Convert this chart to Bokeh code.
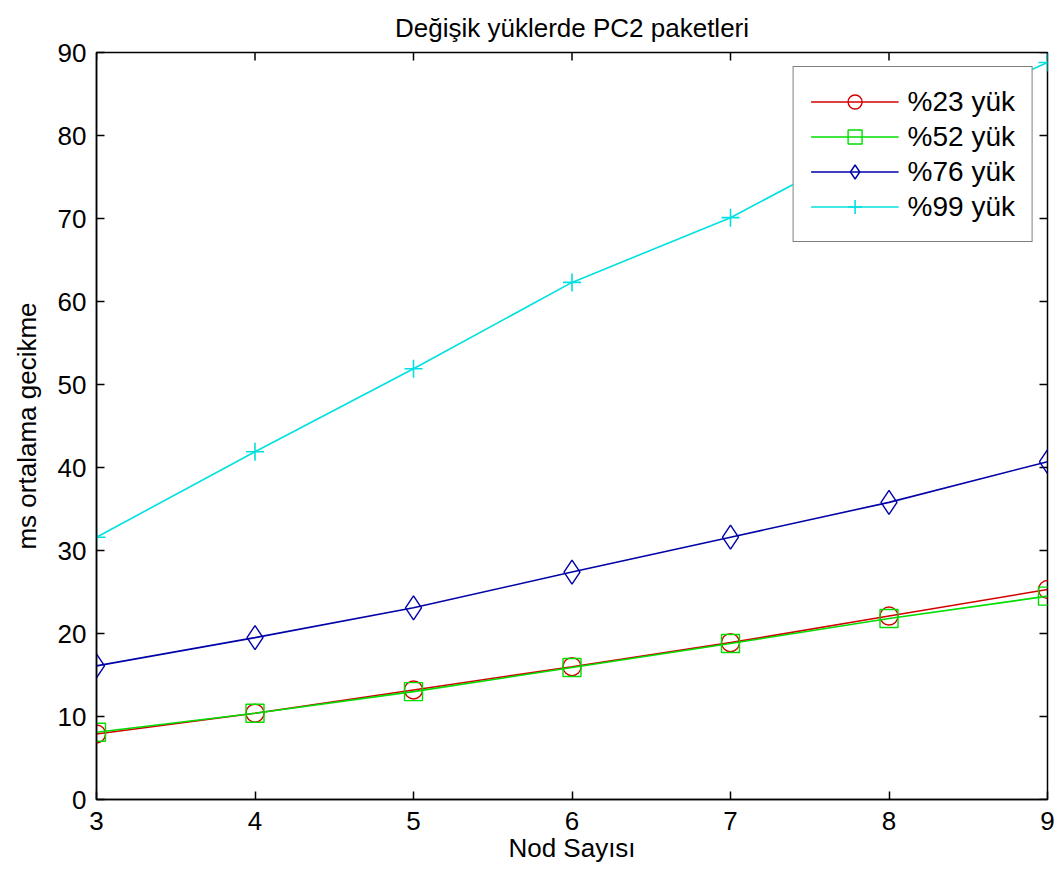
from bokeh.plotting import figure
from bokeh.models import FixedTicker
from bokeh.embed import file_html
from bokeh.resources import INLINE

nodes = [3, 4, 5, 6, 7, 8, 9]
load23 = [7.9, 10.4, 13.2, 16.0, 18.9, 22.1, 25.3]
load52 = [8.1, 10.4, 13.0, 15.9, 18.8, 21.8, 24.5]
load76 = [16.1, 19.5, 23.1, 27.4, 31.6, 35.8, 40.7]
load99 = [31.6, 41.9, 51.9, 62.3, 70.1, 80.2, 88.8]
series_labels = ["%23 yük", "%52 yük", "%76 yük", "%99 yük"]
x_ticks = [3, 4, 5, 6, 7, 8, 9]
y_ticks = [0, 10, 20, 30, 40, 50, 60, 70, 80, 90]

FONT = "Liberation Sans"
FS = "26px"
X0, X1 = 3, 9
Y0, Y1 = 0, 90
FW, FH = 951, 747
TICK = 8

p = figure(frame_width=FW, frame_height=FH,
           x_range=(X0, X1), y_range=(Y0, Y1),
           output_backend="svg", toolbar_location=None,
           min_border_left=96, min_border_right=16,
           min_border_top=52, min_border_bottom=77,
           background_fill_color="white", border_fill_color="white")

p.title.text = "Değişik yüklerde PC2 paketleri"
p.title.align = "center"
p.title.text_font = FONT
p.title.text_font_size = FS
p.title.text_font_style = "normal"
p.title.text_color = "black"
p.title.standoff = 20

p.xgrid.visible = False
p.ygrid.visible = False
p.outline_line_color = "black"
p.outline_line_width = 1.5

for ax in (p.xaxis[0], p.yaxis[0]):
    ax.major_tick_in = TICK
    ax.major_tick_out = 0
    ax.minor_tick_in = 0
    ax.minor_tick_out = 0
    ax.axis_line_color = "black"
    ax.axis_line_width = 1.5
    ax.major_tick_line_color = "black"
    ax.major_tick_line_width = 1.5
    ax.major_label_text_font = FONT
    ax.major_label_text_font_size = FS
    ax.major_label_text_color = "black"
    ax.axis_label_text_font = FONT
    ax.axis_label_text_font_size = FS
    ax.axis_label_text_font_style = "normal"
    ax.axis_label_text_color = "black"

p.xaxis[0].ticker = FixedTicker(ticks=x_ticks)
p.yaxis[0].ticker = FixedTicker(ticks=y_ticks)
p.xaxis[0].axis_label = "Nod Sayısı"
p.yaxis[0].axis_label = "ms ortalama gecikme"
p.xaxis[0].major_label_standoff = 12
p.yaxis[0].major_label_standoff = 10
p.xaxis[0].axis_label_standoff = 0
p.yaxis[0].axis_label_standoff = 13

# inward ticks on the top and right sides of the box (MATLAB style)
dy = TICK * (Y1 - Y0) / FH
dx = TICK * (X1 - X0) / FW
p.segment(x0=x_ticks, y0=[Y1] * len(x_ticks), x1=x_ticks, y1=[Y1 - dy] * len(x_ticks),
          line_color="black", line_width=1.5)
p.segment(x0=[X1] * len(y_ticks), y0=y_ticks, x1=[X1 - dx] * len(y_ticks), y1=y_ticks,
          line_color="black", line_width=1.5)

red = "#d40000"
green = "#00dd00"
blue = "#0000a8"
cyan = "#00e0e0"

p.line(nodes, load23, line_color=red, line_width=1.6, legend_label=series_labels[0])
p.scatter(nodes, load23, marker="circle", size=18, fill_color=None,
          line_color=red, line_width=1.4, legend_label=series_labels[0])

p.line(nodes, load52, line_color=green, line_width=1.6, legend_label=series_labels[1])
p.scatter(nodes, load52, marker="square", size=18, fill_color=None,
          line_color=green, line_width=1.4, legend_label=series_labels[1])

p.line(nodes, load76, line_color=blue, line_width=1.6, legend_label=series_labels[2])
p.scatter(nodes, load76, marker="diamond", size=24, fill_color=None,
          line_color=blue, line_width=1.4, legend_label=series_labels[2])

p.line(nodes, load99, line_color=cyan, line_width=1.6, legend_label=series_labels[3])
p.scatter(nodes, load99, marker="cross", size=18, fill_color=None,
          line_color=cyan, line_width=1.6, legend_label=series_labels[3])

lg = p.legend[0]
lg.location = "top_right"
lg.margin = 14
lg.padding = 17
lg.spacing = 0
lg.glyph_width = 88
lg.glyph_height = 35
lg.label_standoff = 9
lg.label_height = 35
lg.label_text_font = FONT
lg.label_text_font_size = "28px"
lg.label_text_color = "black"
lg.border_line_color = "black"
lg.border_line_width = 1.3
lg.background_fill_color = "white"
lg.background_fill_alpha = 1.0

open("out.html", "w").write(file_html(p, INLINE))
